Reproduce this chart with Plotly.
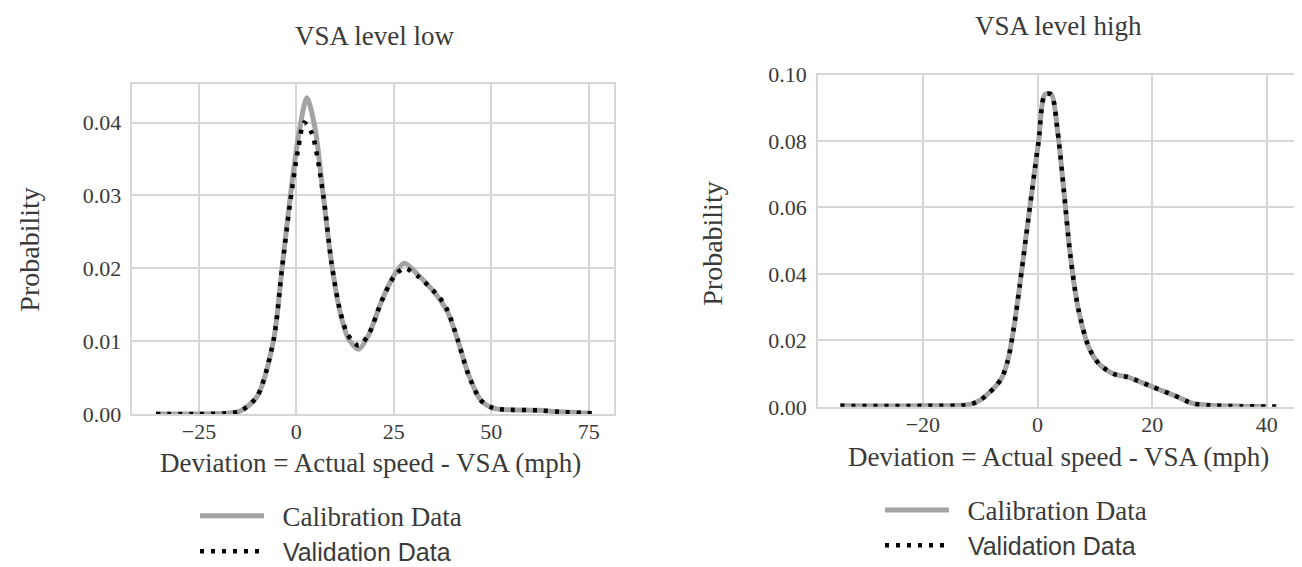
import plotly.graph_objects as go

# ---------------- data ----------------
low_cal_x = [-36, -25, -18, -14.4, -10.1, -5.9, -3.7, -1.6, 0.5, 2.7, 4.8, 6.9, 9.0, 11.2, 13.3, 16.0,
             18.6, 21.8, 25.0, 27.7, 31.4, 36.7, 38.8, 41.5, 44.1, 47.3, 50.5, 53.7, 62.2, 67.5, 75]
low_cal_y = [0.0, 0.0, 0.0001, 0.0004, 0.0024, 0.0100, 0.0199, 0.0297, 0.0380, 0.0434, 0.0392, 0.0300,
             0.0208, 0.0140, 0.0104, 0.0089, 0.0109, 0.0154, 0.0190, 0.0207, 0.0190, 0.0158, 0.0140,
             0.0100, 0.0055, 0.0019, 0.0008, 0.0006, 0.0005, 0.0003, 0.0001]

low_val_x = [-36, -25, -18, -14.4, -10.1, -5.9, -3.7, -1.6, 0.5, 2.0, 4.0, 6.9, 9.0, 11.2, 13.3, 16.0,
             18.6, 21.8, 25.0, 27.7, 31.4, 36.7, 38.8, 41.5, 44.1, 47.3, 50.5, 53.7, 62.2, 67.5, 76]
low_val_y = [0.0, 0.0, 0.0001, 0.0004, 0.0024, 0.0100, 0.0199, 0.0290, 0.0365, 0.0400, 0.0385, 0.0300,
             0.0208, 0.0142, 0.0108, 0.0094, 0.0110, 0.0154, 0.0188, 0.0200, 0.0188, 0.0160, 0.0142,
             0.0100, 0.0055, 0.0019, 0.0008, 0.0006, 0.0005, 0.0003, 0.0001]

high_cal_x = [-34.4, -20, -11.8, -10.0, -8.6, -7.3, -6.2, -5.2, -4.2, -3.1, -2.0, -0.5, 0.2, 1.3, 2.4,
              3.5, 4.6, 5.7, 7.1, 9.0, 10.8, 13.3, 15.9, 20.2, 23.9, 27.1, 29.7, 35.5, 40]
high_cal_y = [0.0003, 0.0003, 0.0007, 0.0020, 0.0040, 0.0062, 0.0088, 0.0138, 0.0230, 0.0365, 0.0512,
              0.0710, 0.0800, 0.0940, 0.0940, 0.0830, 0.0650, 0.0460, 0.0296, 0.0177, 0.0128, 0.0099,
              0.0089, 0.0059, 0.0034, 0.0010, 0.0005, 0.0002, 0.0001]

high_val_x = [-34.4, -20, -11.8, -10.0, -8.6, -7.3, -6.2, -5.2, -4.2, -3.1, -2.0, -0.5, 0.2, 1.3, 2.4,
              3.5, 4.6, 5.7, 7.1, 9.0, 10.8, 13.3, 15.9, 20.2, 23.9, 27.1, 29.7, 35.5, 42]
high_val_y = [0.0003, 0.0003, 0.0007, 0.0020, 0.0040, 0.0062, 0.0088, 0.0138, 0.0230, 0.0365, 0.0512,
              0.0710, 0.0800, 0.0940, 0.0940, 0.0830, 0.0650, 0.0460, 0.0296, 0.0177, 0.0128, 0.0099,
              0.0089, 0.0059, 0.0034, 0.0010, 0.0005, 0.0002, 0.0001]

low_xticks = [-25, 0, 25, 50, 75]
low_yticks = [0.00, 0.01, 0.02, 0.03, 0.04]
high_xticks = [-20, 0, 20, 40]
high_yticks = [0.00, 0.02, 0.04, 0.06, 0.08, 0.10]

titles = ["VSA level low", "VSA level high"]
x_title = "Deviation = Actual speed - VSA (mph)"
y_title = "Probability"
names = ["Calibration Data", "Validation Data"]

# ---------------- styling ----------------
W, H = 1302, 567
SERIF = "Liberation Serif, Times New Roman, serif"
SANS = "Liberation Sans Narrow, Arial Narrow, Liberation Sans, sans-serif"
TXT = "#3a3a3a"
GRID = "#d6d6d6"
GRAY = "#a3a3a3"
DOT = "4px,7px"

def px_x(p):
    return p / W

def px_y(p):
    return 1 - p / H

fig = go.Figure()

NB = "\u00a0"
cal_name = f'<span style="font-family:{SERIF};font-size:27px">{NB}{NB}{names[0]}</span>'
val_name = f'<span style="font-family:{SANS};font-size:25px">{NB}{NB}{names[1]}</span>'

cal_line = dict(color=GRAY, width=5, shape="spline", smoothing=0.8)
val_line = dict(color="black", width=4.5, dash=DOT, shape="spline", smoothing=0.8)

# left panel
fig.add_trace(go.Scatter(x=low_cal_x, y=low_cal_y, mode="lines", line=cal_line, showlegend=True,
                         name=cal_name, legend="legend", xaxis="x", yaxis="y"))
fig.add_trace(go.Scatter(x=low_val_x, y=low_val_y, mode="lines", line=val_line, showlegend=True,
                         name=val_name, legend="legend2", xaxis="x", yaxis="y"))
# right panel
fig.add_trace(go.Scatter(x=high_cal_x, y=high_cal_y, mode="lines", line=cal_line, showlegend=True,
                         name=cal_name, legend="legend3", xaxis="x2", yaxis="y2"))
fig.add_trace(go.Scatter(x=high_val_x, y=high_val_y, mode="lines", line=val_line, showlegend=True,
                         name=val_name, legend="legend4", xaxis="x2", yaxis="y2"))

axis_common = dict(showgrid=True, gridcolor=GRID, gridwidth=1.5, zeroline=False, showline=True,
                   linecolor=GRID, linewidth=1.5, mirror=True, ticks="", automargin=False,
                   tickfont=dict(family=SERIF, size=22, color=TXT))

fig.update_layout(
    width=W, height=H, margin=dict(l=0, r=0, t=0, b=0), showlegend=True,
    paper_bgcolor="white", plot_bgcolor="white",
    xaxis=dict(domain=[px_x(124.3), px_x(606)], range=[-42.1, 81.5], tickvals=low_xticks, anchor="y",
               ticklabelstandoff=-3, **axis_common),
    yaxis=dict(domain=[px_y(413.3), px_y(77.3)], range=[0, 0.0453], tickvals=low_yticks, tickformat=".2f",
               anchor="x", ticklabelstandoff=5, **axis_common),
    xaxis2=dict(domain=[px_x(810), px_x(1292)], range=[-38.3, 45.8], tickvals=high_xticks, anchor="y2",
                ticklabelstandoff=-3, **axis_common),
    yaxis2=dict(domain=[px_y(406), px_y(67.7)], range=[0, 0.1], tickvals=high_yticks, tickformat=".2f",
                anchor="x2", ticklabelstandoff=5, **axis_common),
)

leg_common = dict(bgcolor="rgba(0,0,0,0)", borderwidth=0, font=dict(family=SERIF, size=26, color=TXT),
                  xanchor="left", yanchor="middle", itemwidth=64, visible=True)
fig.update_layout(
    legend=dict(x=px_x(187), y=px_y(517), **leg_common),
    legend2=dict(x=px_x(187), y=px_y(553), **leg_common),
    legend3=dict(x=px_x(872), y=px_y(511), **leg_common),
    legend4=dict(x=px_x(872), y=px_y(547), **leg_common),
)

annos = [
    dict(text=titles[0], x=px_x(366), y=px_y(29), size=27, angle=0),
    dict(text=titles[1], x=px_x(1050), y=px_y(18), size=27, angle=0),
    dict(text=x_title, x=px_x(362), y=px_y(463), size=27, angle=0),
    dict(text=x_title, x=px_x(1050), y=px_y(457), size=27, angle=0),
    dict(text=y_title, x=px_x(22), y=px_y(246), size=28, angle=-90),
    dict(text=y_title, x=px_x(705), y=px_y(240), size=28, angle=-90),
]
for a in annos:
    fig.add_annotation(text=a["text"], x=a["x"], y=a["y"], xref="paper", yref="paper",
                       xanchor="center", yanchor="middle", showarrow=False, textangle=a["angle"],
                       font=dict(family=SERIF, size=a["size"], color=TXT))

fig.write_html("out.html")
